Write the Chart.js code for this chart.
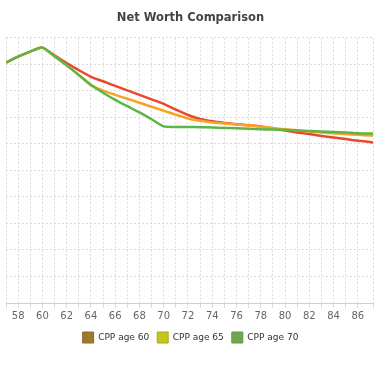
<!DOCTYPE html>
<html><head><meta charset="utf-8">
<script src="https://cdn.jsdelivr.net/npm/chart.js@4"></script>
<style>html,body{margin:0;padding:0;background:#fff;overflow:hidden}#wrap{width:375px;height:366px}</style>
</head><body><div id="wrap"><canvas id="c"></canvas></div>
<script>
const ages = [57,58,59,60,61,62,63,64,65,66,67,68,69,70,71,72,73,74,75,76,77,78,79,80,81,82,83,84,85,86,87,88];
const cpp60 = [907,929,948,963,934,905,878,853,836,819,802,785,768,751,729,709,694,685,679,674,670,666,658,650,643,637,630,624,618,612,607,601];
const cpp65 = [907,929,948,963,930,896,860,822,801,785,770,755,740,725,710,696,687,681,677,673,669,665,660,655,651,647,643,640,637,634,632,629];
const cpp70 = [907,929,948,963,930,896,860,822,793,766,742,719,693,666,664,664,663,662,660,659,657,655,654,652,650,649,647,645,643,640,639,638];
const seriesNames = ['CPP age 60','CPP age 65','CPP age 70'];
const lineColors = ['#e8482c','#f5a425','#5db548'];
const legendFill = ['#9c7a2c','#c5c51b','#6ea74f'];
const legendStroke = ['#8f6a2e','#a8a824','#5e9a45'];

function pts(arr){ return ages.map((a,i)=>({x:a,y:arr[i]})); }
const series = [cpp60, cpp65, cpp70];

new Chart(document.getElementById('c'), {
  type: 'line',
  data: {
    datasets: series.map((s,i)=>({
      label: seriesNames[i],
      data: pts(s),
      borderColor: lineColors[i],
      backgroundColor: legendFill[i],
      borderWidth: 2.5,
      pointRadius: 0,
      tension: 0.2,
      fill: false,
      order: 2 - i
    }))
  },
  options: {
    responsive: true,
    maintainAspectRatio: false,
    animation: false,
    layout: { padding: { left: 6, right: 0, top: 0, bottom: 13 } },
    plugins: {
      title: {
        display: true,
        text: 'Net Worth Comparison',
        color: '#444',
        font: { family: 'DejaVu Sans', size: 11.5, weight: 'bold' },
        padding: { top: 11, bottom: 13 }
      },
      legend: {
        position: 'bottom',
        labels: {
          boxWidth: 11, boxHeight: 11,
          color: '#333',
          font: { family: 'DejaVu Sans', size: 9 },
          padding: 8,
          generateLabels: (chart) => seriesNames.map((n,i)=>({
            text: n, fillStyle: legendFill[i], strokeStyle: legendStroke[i],
            lineWidth: 1, datasetIndex: i, hidden: false, fontColor: '#333'
          }))
        }
      },
      tooltip: { enabled: false }
    },
    scales: {
      x: {
        type: 'linear',
        min: 57, max: 87.25,
        grid: { color: '#dcdcdc', lineWidth: 1, tickLength: 5 },
        border: { display: true, color: '#d0d0d0', dash: [2,2] },
        ticks: {
          stepSize: 1, autoSkip: false, maxRotation: 0, padding: 2,
          color: '#666', font: { family: 'DejaVu Sans', size: 10 },
          callback: (v) => (Number.isInteger(v) && v % 2 === 0) ? String(v) : ''
        }
      },
      y: {
        min: 0, max: 1000,
        grid: { color: '#dcdcdc', drawTicks: false },
        border: { display: false, dash: [2,2] },
        ticks: { display: false, stepSize: 100 }
      }
    }
  }
});
</script></body></html>
